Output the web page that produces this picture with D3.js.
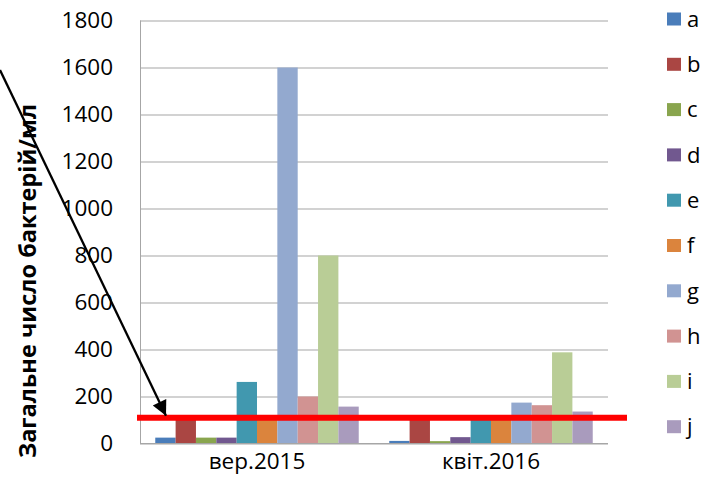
<!DOCTYPE html>
<html>
<head>
<meta charset="utf-8">
<script src="https://cdn.jsdelivr.net/npm/d3@7/dist/d3.min.js"></script>
<style>
  html, body { margin: 0; padding: 0; background: #fff; }
  svg { display: block; }
  text { font-family: "Open Sans", "Noto Sans", sans-serif; fill: #000; }
</style>
</head>
<body>
<svg id="chart" width="706" height="492"></svg>
<script>
const categories = ["вер.2015", "квіт.2016"];
const seriesNames = ["a", "b", "c", "d", "e", "f", "g", "h", "i", "j"];
const values2015 = [25, 112, 25, 25, 262, 112, 1600, 200, 800, 157];
const values2016 = [11, 112, 10, 27, 112, 112, 174, 163, 388, 136];
const seriesColors = ["#4A7DBA", "#AA4643", "#89A54E", "#71588F", "#4198AF",
                      "#DB843D", "#93A9CF", "#D19392", "#B9CD96", "#A99BBD"];
const yTicks = [0, 200, 400, 600, 800, 1000, 1200, 1400, 1600, 1800];
const threshold = 110;
const yTitle = "Загальне число бактерій/мл";

const svg = d3.select("#chart");
const plot = { left: 140, right: 608, top: 20.5, bottom: 443.5 };

const y = d3.scaleLinear().domain([0, 1800]).range([plot.bottom, plot.top]);
const x0 = d3.scaleBand().domain(categories).range([plot.left, plot.right]).padding(0);
const x1 = d3.scaleBand().domain(seriesNames).range([0, x0.bandwidth()])
  .paddingInner(0).paddingOuter(0.75);
const color = d3.scaleOrdinal().domain(seriesNames).range(seriesColors);

// gridlines + y tick labels
const yAxis = d3.axisLeft(y).tickValues(yTicks).tickSize(-(plot.right - plot.left)).tickPadding(27).tickFormat(d3.format("d"));
const gAxis = svg.append("g").attr("transform", `translate(${plot.left},0)`).call(yAxis);
gAxis.select(".domain").attr("stroke", "#a6a6a6").attr("d", `M0.5,${plot.top}V${plot.bottom}`);
gAxis.selectAll(".tick line").attr("stroke", "#a6a6a6").attr("stroke-width", 1.2);
gAxis.selectAll(".tick text").attr("font-size", 22.5).attr("font-family", "Open Sans").attr("fill", "#000");

// bars
const data = [values2015, values2016];
const groups = svg.append("g").selectAll("g").data(categories).join("g")
  .attr("transform", d => `translate(${x0(d)},0)`);
groups.selectAll("rect").data((c, i) => seriesNames.map((s, j) => ({ s, v: data[i][j] })))
  .join("rect")
  .attr("x", d => x1(d.s))
  .attr("width", x1.bandwidth())
  .attr("y", d => y(d.v))
  .attr("height", d => y(0) - y(d.v))
  .attr("fill", d => color(d.s));

// baseline
svg.append("line").attr("x1", plot.left).attr("x2", plot.right)
  .attr("y1", y(0)).attr("y2", y(0)).attr("stroke", "#a6a6a6").attr("stroke-width", 1.2);

// x labels
const xAxis = d3.axisBottom(x0).tickSize(0).tickPadding(10);
const gx = svg.append("g").attr("transform", `translate(0,${plot.bottom})`).call(xAxis);
gx.select(".domain").remove();
gx.selectAll(".tick text").attr("font-size", 22.5).attr("font-family", "Open Sans").attr("fill", "#000");

// red threshold line
svg.append("line").attr("x1", 137).attr("x2", 627)
  .attr("y1", y(threshold)).attr("y2", y(threshold))
  .attr("stroke", "#ff0000").attr("stroke-width", 6);

// arrow
svg.append("defs").append("marker").attr("id", "ah")
  .attr("viewBox", "0 0 10 10").attr("refX", 10).attr("refY", 5)
  .attr("markerWidth", 8).attr("markerHeight", 6.5).attr("markerUnits", "strokeWidth")
  .attr("orient", "auto")
  .append("path").attr("d", "M0,0L10,5L0,10Z").attr("fill", "#000");
svg.append("line").attr("x1", 0).attr("y1", 70).attr("x2", 166).attr("y2", y(threshold) - 2)
  .attr("stroke", "#000").attr("stroke-width", 2.3).attr("marker-end", "url(#ah)");

// y title
svg.append("text")
  .attr("transform", `translate(36,281) rotate(-90)`)
  .attr("text-anchor", "middle")
  .attr("font-size", 23.5).attr("font-weight", "bold")
  .text(yTitle);

// legend
const legend = svg.append("g").selectAll("g").data(seriesNames).join("g")
  .attr("transform", (d, i) => `translate(667,${19 + i * 45.3})`);
legend.append("rect").attr("x", 0).attr("y", -6.5).attr("width", 14).attr("height", 13)
  .attr("fill", d => color(d));
legend.append("text").attr("x", 20).attr("y", 0).attr("dy", "0.35em")
  .attr("font-size", 22).text(d => d);
</script>
</body>
</html>
